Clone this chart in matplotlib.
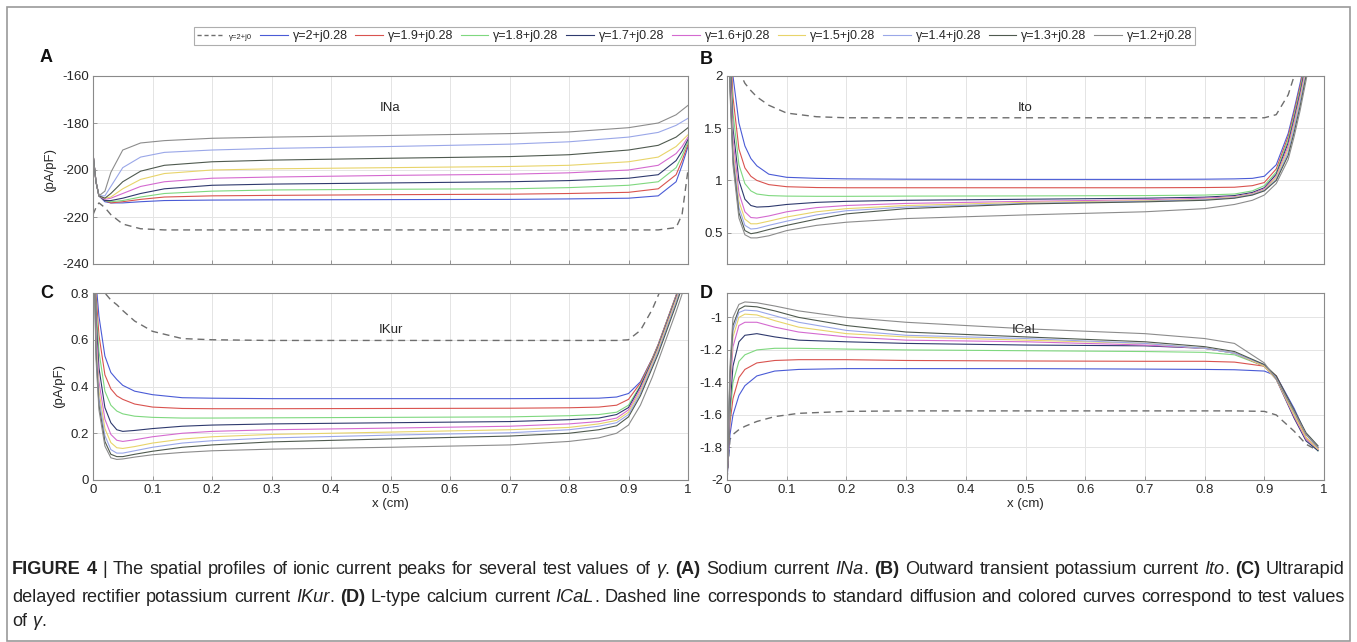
import re
import matplotlib
matplotlib.use("Agg")
import matplotlib.pyplot as plt
from matplotlib import font_manager
from matplotlib.patches import Rectangle
from matplotlib.lines import Line2D

# ---------------- data ----------------
gammas = ["γ=2+j0.28", "γ=1.9+j0.28", "γ=1.8+j0.28", "γ=1.7+j0.28", "γ=1.6+j0.28",
          "γ=1.5+j0.28", "γ=1.4+j0.28", "γ=1.3+j0.28", "γ=1.2+j0.28"]
dashed_label = "γ=2+j0"
colors = ["#4a5bd6", "#d9534f", "#7fd87f", "#2f3a6e", "#d46ad0",
          "#e8d46a", "#9aa7e8", "#4f5a4f", "#8c8c8c"]

# Panel A: INa
xa = [0, 0.005, 0.01, 0.02, 0.03, 0.05, 0.08, 0.12, 0.2, 0.3, 0.5, 0.7, 0.8, 0.9, 0.95, 0.98, 0.99, 1.0]
ina_std = [-219, -216, -214, -216, -219, -223, -225, -225.5, -225.5, -225.5, -225.5, -225.5, -225.5, -225.5, -225.5, -224.5, -219, -200]
ina = [
    [-193, -205, -211, -213.5, -214, -214, -213.5, -213, -212.8, -212.7, -212.6, -212.5, -212.3, -212, -211, -205, -198, -190],
    [-193, -205, -211, -213, -214, -213.5, -212.5, -211.5, -211, -210.8, -210.5, -210.3, -210, -209.5, -208, -202, -196, -189],
    [-193, -205, -211, -213, -213.5, -213, -211.5, -210, -209, -208.5, -208.2, -208, -207.5, -206.5, -205, -199, -194, -188],
    [-193, -205, -211, -213, -213, -212, -210, -208, -206.5, -206, -205.5, -205, -204.5, -203.5, -202, -196, -192, -187],
    [-193, -205, -211, -212.5, -212, -210, -207, -205, -203.5, -203, -202.3, -201.8, -201.2, -200, -198, -193, -190, -186],
    [-193, -205, -211, -212, -211.5, -208, -204, -201.5, -200, -199.5, -199, -198.5, -198, -196.5, -194.5, -190, -187.5, -185],
    [-193, -205, -211, -211, -207, -199, -194.5, -192.5, -191.5, -190.8, -190, -189, -188, -186, -184, -181, -179.5, -178],
    [-193, -205, -211, -212, -210, -205, -200.5, -198, -196.5, -195.8, -195, -194.3, -193.5, -191.5, -189.5, -186, -184, -182],
    [-193, -205, -211, -209, -201, -191.5, -188.5, -187.5, -186.5, -186, -185.3, -184.5, -183.8, -182, -180, -176.5, -174.5, -172.5],
]

# Panel B: Ito
xb = [0, 0.005, 0.01, 0.02, 0.03, 0.04, 0.05, 0.07, 0.1, 0.15, 0.2, 0.3, 0.5, 0.7, 0.8, 0.85, 0.88, 0.9,
      0.92, 0.94, 0.95, 0.96, 0.97, 0.98, 1.0]
ito_std = [4, 3.2, 2.7, 2.05, 1.93, 1.86, 1.8, 1.72, 1.645, 1.61, 1.6, 1.6, 1.6, 1.6, 1.6, 1.6, 1.6, 1.6,
           1.63, 1.82, 2.0, 2.2, 2.4, 2.6, 3]
ito = [
    [4, 2.6, 2.0, 1.55, 1.33, 1.21, 1.14, 1.06, 1.03, 1.02, 1.015, 1.012, 1.01, 1.01, 1.012, 1.015, 1.02, 1.04, 1.15, 1.45, 1.68, 1.93, 2.2, 2.5, 3],
    [4, 2.4, 1.8, 1.3, 1.12, 1.04, 1.0, 0.96, 0.94, 0.932, 0.93, 0.93, 0.93, 0.93, 0.932, 0.935, 0.95, 0.98, 1.11, 1.42, 1.65, 1.9, 2.18, 2.5, 3],
    [4, 2.3, 1.65, 1.15, 0.97, 0.9, 0.87, 0.855, 0.85, 0.848, 0.848, 0.85, 0.852, 0.855, 0.86, 0.87, 0.9, 0.95, 1.08, 1.39, 1.62, 1.87, 2.15, 2.45, 3],
    [4, 2.2, 1.5, 1.0, 0.82, 0.76, 0.745, 0.75, 0.77, 0.79, 0.8, 0.81, 0.82, 0.83, 0.84, 0.855, 0.885, 0.93, 1.06, 1.36, 1.59, 1.84, 2.12, 2.4, 3],
    [4, 2.1, 1.4, 0.88, 0.7, 0.645, 0.64, 0.66, 0.7, 0.74, 0.76, 0.78, 0.8, 0.815, 0.83, 0.845, 0.875, 0.92, 1.04, 1.33, 1.56, 1.81, 2.09, 2.38, 3],
    [4, 2.0, 1.3, 0.8, 0.63, 0.585, 0.585, 0.61, 0.65, 0.7, 0.73, 0.76, 0.79, 0.805, 0.82, 0.84, 0.87, 0.91, 1.03, 1.3, 1.53, 1.78, 2.06, 2.35, 3],
    [4, 1.95, 1.25, 0.74, 0.57, 0.535, 0.54, 0.57, 0.61, 0.67, 0.71, 0.745, 0.78, 0.8, 0.815, 0.835, 0.865, 0.905, 1.01, 1.27, 1.5, 1.75, 2.03, 2.32, 3],
    [4, 1.9, 1.2, 0.69, 0.52, 0.49, 0.5, 0.53, 0.57, 0.63, 0.68, 0.73, 0.775, 0.795, 0.81, 0.83, 0.86, 0.9, 1.0, 1.24, 1.46, 1.71, 2.0, 2.3, 3],
    [4, 1.85, 1.15, 0.64, 0.48, 0.45, 0.45, 0.47, 0.52, 0.57, 0.6, 0.635, 0.67, 0.7, 0.73, 0.77, 0.81, 0.86, 0.97, 1.2, 1.42, 1.67, 1.96, 2.27, 3],
]

# Panel C: IKur
xc = xb
ikur_std = [1.5, 1.3, 1.1, 0.8, 0.77, 0.75, 0.725, 0.68, 0.636, 0.605, 0.6, 0.597, 0.597, 0.597, 0.597, 0.597, 0.597, 0.6,
            0.64, 0.73, 0.79, 0.85, 0.9, 0.95, 1.05]
ikur = [
    [1.2, 0.85, 0.7, 0.53, 0.46, 0.43, 0.405, 0.38, 0.365, 0.352, 0.35, 0.348, 0.348, 0.348, 0.349, 0.35, 0.355, 0.37, 0.42, 0.52, 0.58, 0.65, 0.72, 0.79, 0.93],
    [1.2, 0.8, 0.62, 0.45, 0.39, 0.36, 0.345, 0.325, 0.312, 0.306, 0.305, 0.305, 0.306, 0.307, 0.309, 0.312, 0.32, 0.345, 0.415, 0.52, 0.58, 0.65, 0.72, 0.79, 0.93],
    [1.2, 0.75, 0.55, 0.38, 0.32, 0.295, 0.283, 0.273, 0.268, 0.265, 0.265, 0.266, 0.268, 0.27, 0.275, 0.28, 0.29, 0.32, 0.405, 0.515, 0.575, 0.645, 0.715, 0.785, 0.93],
    [1.2, 0.7, 0.48, 0.31, 0.245, 0.215, 0.208, 0.212, 0.22, 0.23, 0.235, 0.24, 0.245, 0.25, 0.258, 0.265, 0.28, 0.31, 0.4, 0.51, 0.57, 0.64, 0.71, 0.78, 0.92],
    [1.2, 0.65, 0.42, 0.26, 0.195, 0.17, 0.165, 0.172, 0.185, 0.2, 0.208, 0.215, 0.222, 0.23, 0.24, 0.25, 0.265, 0.3, 0.39, 0.505, 0.565, 0.635, 0.705, 0.775, 0.92],
    [1.2, 0.6, 0.38, 0.22, 0.16, 0.138, 0.135, 0.143, 0.158, 0.175, 0.185, 0.195, 0.205, 0.215, 0.225, 0.24, 0.255, 0.29, 0.38, 0.5, 0.56, 0.63, 0.7, 0.77, 0.91],
    [1.2, 0.57, 0.35, 0.19, 0.13, 0.115, 0.115, 0.125, 0.14, 0.158, 0.168, 0.18, 0.192, 0.202, 0.215, 0.23, 0.245, 0.28, 0.37, 0.49, 0.55, 0.62, 0.69, 0.76, 0.91],
    [1.2, 0.55, 0.32, 0.165, 0.11, 0.1, 0.1, 0.11, 0.123, 0.14, 0.15, 0.163, 0.176, 0.188, 0.2, 0.215, 0.232, 0.27, 0.36, 0.48, 0.54, 0.61, 0.68, 0.75, 0.9],
    [1.2, 0.52, 0.3, 0.145, 0.095, 0.088, 0.09, 0.098, 0.108, 0.118, 0.125, 0.132, 0.14, 0.15, 0.165, 0.18, 0.2, 0.235, 0.32, 0.44, 0.51, 0.58, 0.65, 0.72, 0.87],
]

# Panel D: ICaL
xd = [0, 0.005, 0.01, 0.02, 0.03, 0.05, 0.08, 0.12, 0.2, 0.3, 0.5, 0.7, 0.8, 0.85, 0.9, 0.92, 0.95, 0.97, 0.99]
ical_std = [-2.0, -1.75, -1.72, -1.69, -1.67, -1.64, -1.61, -1.59, -1.578, -1.575, -1.575, -1.575, -1.575, -1.575,
            -1.578, -1.6, -1.7, -1.78, -1.82]
ical = [
    [-2.0, -1.72, -1.6, -1.48, -1.42, -1.36, -1.33, -1.32, -1.315, -1.315, -1.315, -1.318, -1.32, -1.322, -1.33, -1.36, -1.56, -1.72, -1.80],
    [-2.0, -1.65, -1.5, -1.37, -1.32, -1.28, -1.265, -1.26, -1.26, -1.265, -1.268, -1.27, -1.27, -1.275, -1.3, -1.36, -1.58, -1.74, -1.81],
    [-2.0, -1.6, -1.4, -1.27, -1.23, -1.2, -1.19, -1.19, -1.195, -1.2, -1.205, -1.21, -1.215, -1.23, -1.3, -1.37, -1.6, -1.75, -1.82],
    [-2.0, -1.55, -1.3, -1.15, -1.11, -1.10, -1.12, -1.14, -1.15, -1.16, -1.17, -1.175, -1.19, -1.22, -1.3, -1.38, -1.62, -1.76, -1.82],
    [-2.0, -1.47, -1.18, -1.05, -1.03, -1.03, -1.06, -1.09, -1.12, -1.14, -1.15, -1.17, -1.19, -1.22, -1.3, -1.38, -1.61, -1.75, -1.81],
    [-2.0, -1.42, -1.12, -1.0, -0.98, -0.985, -1.02, -1.06, -1.10, -1.12, -1.14, -1.16, -1.19, -1.22, -1.3, -1.38, -1.6, -1.74, -1.81],
    [-2.0, -1.38, -1.08, -0.97, -0.955, -0.96, -0.99, -1.03, -1.08, -1.11, -1.13, -1.16, -1.19, -1.22, -1.29, -1.37, -1.58, -1.72, -1.80],
    [-2.0, -1.35, -1.05, -0.95, -0.93, -0.935, -0.96, -1.0, -1.05, -1.09, -1.12, -1.15, -1.18, -1.21, -1.29, -1.36, -1.57, -1.71, -1.79],
    [-2.0, -1.3, -1.0, -0.92, -0.905, -0.91, -0.93, -0.96, -1.0, -1.03, -1.07, -1.10, -1.13, -1.16, -1.28, -1.38, -1.58, -1.72, -1.8],
]

xticks = [0, 0.1, 0.2, 0.3, 0.4, 0.5, 0.6, 0.7, 0.8, 0.9, 1]
xtick_labels = ["0", "0.1", "0.2", "0.3", "0.4", "0.5", "0.6", "0.7", "0.8", "0.9", "1"]

panels = [
    dict(letter="A", title="INa", x=xa, std=ina_std, ys=ina, ylim=(-240, -160),
         yticks=[-240, -220, -200, -180, -160], yticklabels=["-240", "-220", "-200", "-180", "-160"]),
    dict(letter="B", title="Ito", x=xb, std=ito_std, ys=ito, ylim=(0.2, 2),
         yticks=[0.5, 1, 1.5, 2], yticklabels=["0.5", "1", "1.5", "2"]),
    dict(letter="C", title="IKur", x=xc, std=ikur_std, ys=ikur, ylim=(0, 0.8),
         yticks=[0, 0.2, 0.4, 0.6, 0.8], yticklabels=["0", "0.2", "0.4", "0.6", "0.8"]),
    dict(letter="D", title="ICaL", x=xd, std=ical_std, ys=ical, ylim=(-2, -0.85),
         yticks=[-2, -1.8, -1.6, -1.4, -1.2, -1], yticklabels=["-2", "-1.8", "-1.6", "-1.4", "-1.2", "-1"]),
]

# ---------------- fonts ----------------
def has_font(name):
    try:
        font_manager.findfont(font_manager.FontProperties(family=name), fallback_to_default=False)
        return True
    except Exception:
        return False

main_family = ["Liberation Sans", "DejaVu Sans"]
cap_family = "Liberation Sans Narrow" if has_font("Liberation Sans Narrow") else "Liberation Sans"
plt.rcParams["font.family"] = main_family

W, H = 1357, 642
fig = plt.figure(figsize=(W / 100, H / 100), dpi=100)
fig.patch.set_facecolor("white")

def fbox(left, top, right, bottom):
    return [left / W, 1 - bottom / H, (right - left) / W, (bottom - top) / H]

boxes = [fbox(93, 76, 688, 264), fbox(727, 76, 1324, 264),
         fbox(93, 293, 688, 480), fbox(727, 293, 1324, 480)]

tick_color = "#262626"
edge_color = "#8a8a8a"
for i, (p, b) in enumerate(zip(panels, boxes)):
    ax = fig.add_axes(b)
    ax.plot(p["x"], p["std"], color="#6e6e6e", lw=1.0, ls=(0, (5, 3.5)))
    for yv, c in zip(p["ys"], colors):
        ax.plot(p["x"], yv, color=c, lw=0.8)
    ax.set_xlim(0, 1)
    ax.set_ylim(*p["ylim"])
    ax.set_xticks(xticks)
    ax.set_yticks(p["yticks"])
    ax.set_yticklabels(p["yticklabels"])
    if i >= 2:
        ax.set_xticklabels(xtick_labels)
        ax.set_xlabel("x (cm)", fontsize=9.5, color=tick_color, labelpad=1)
    else:
        ax.set_xticklabels([])
    if i % 2 == 0:
        ax.set_ylabel("(pA/pF)", fontsize=9.5, color=tick_color, labelpad=4)
    ax.grid(True, color="#e4e4e4", lw=0.7)
    ax.set_axisbelow(True)
    ax.tick_params(direction="in", length=3, width=0.6, colors=edge_color,
                   labelcolor=tick_color, labelsize=9.5, pad=3)
    for s in ax.spines.values():
        s.set_color(edge_color)
        s.set_linewidth(0.8)
    ax.text(0.5, 0.83 if i < 2 else 0.8, p["title"], transform=ax.transAxes,
            ha="center", va="center", fontsize=9.5, color=tick_color)

# panel letters
for letter, (px, py) in zip("ABCD", [(40, 58), (700, 60), (40, 293), (700, 293)]):
    fig.text(px / W, 1 - py / H, letter, fontsize=13, fontweight="bold",
             ha="left", va="center", color="#111111")

# legend
handles = [Line2D([], [], color="#6e6e6e", lw=1.0, ls=(0, (3, 2)))]
handles += [Line2D([], [], color=c, lw=0.8) for c in colors]
labels = [dashed_label] + gammas
leg = fig.legend(handles, labels, loc="center", bbox_to_anchor=(694.5 / W, 1 - 36 / H),
                 ncol=10, fontsize=9, frameon=True, fancybox=False, handlelength=2.2,
                 handletextpad=0.4, columnspacing=0.62, borderpad=0.25, borderaxespad=0)
leg.get_frame().set_edgecolor("#9a9a9a")
leg.get_frame().set_linewidth(0.8)
leg.get_texts()[0].set_fontsize(5.5)
for t in leg.get_texts():
    t.set_color(tick_color)

# outer frame
fig.add_artist(Rectangle((7 / W, 1 - 641 / H), (1350 - 7) / W, (641 - 7) / H,
                         transform=fig.transFigure, fill=False, edgecolor="#9a9a9a", lw=1.2))

# caption with mixed styles (justified lines)
renderer = fig.canvas.get_renderer()

def run_width(s, size, weight, style):
    fp = font_manager.FontProperties(family=cap_family, size=size, weight=weight, style=style)
    w1, _, _ = renderer.get_text_width_height_descent("x" + s + "x", fp, ismath=False)
    w0, _, _ = renderer.get_text_width_height_descent("xx", fp, ismath=False)
    return w1 - w0

STY = {"n": ("normal", "normal"), "b": ("bold", "normal"), "i": ("normal", "italic")}

cap_lines = [
    [("FIGURE 4", "b"), (" | The spatial profiles of ionic current peaks for several test values of ", "n"),
     ("γ", "i"), (". ", "n"), ("(A)", "b"), (" Sodium current ", "n"), ("INa", "i"), (". ", "n"),
     ("(B)", "b"), (" Outward transient potassium current ", "n"), ("Ito", "i"), (". ", "n"),
     ("(C)", "b"), (" Ultrarapid", "n")],
    [("delayed rectifier potassium current ", "n"), ("IKur", "i"), (". ", "n"), ("(D)", "b"),
     (" L-type calcium current ", "n"), ("ICaL", "i"),
     (". Dashed line corresponds to standard diffusion and colored curves correspond to test values", "n")],
    [("of ", "n"), ("γ", "i"), (".", "n")],
]

def tokens(line):
    out = []
    for s, k in line:
        for tok in re.split(r"( )", s):
            if tok:
                out.append((tok, k))
    return out

target = 1333.0
base = 11.0
widths = [sum(run_width(s, base, *STY[k]) for s, k in line) for line in cap_lines[:2]]
cap_size = base * target / max(widths) * 0.99
cap_y = [570, 597, 622]
for li, (line, yy) in enumerate(zip(cap_lines, cap_y)):
    toks = tokens(line)
    natural = sum(run_width(t, cap_size, *STY[k]) for t, k in toks)
    nsp = sum(1 for t, _ in toks if t == " ")
    extra = (target - natural) / nsp if (li < 2 and nsp) else 0.0
    x = 12.0
    for t, k in toks:
        wt, st = STY[k]
        w = run_width(t, cap_size, wt, st)
        if t == " ":
            x += w + extra
            continue
        fig.text(x / W, 1 - yy / H, t, fontsize=cap_size, family=cap_family,
                 fontweight=wt, fontstyle=st, ha="left", va="center", color="#222222")
        x += w

fig.savefig("out.png", dpi=100, facecolor="white")
